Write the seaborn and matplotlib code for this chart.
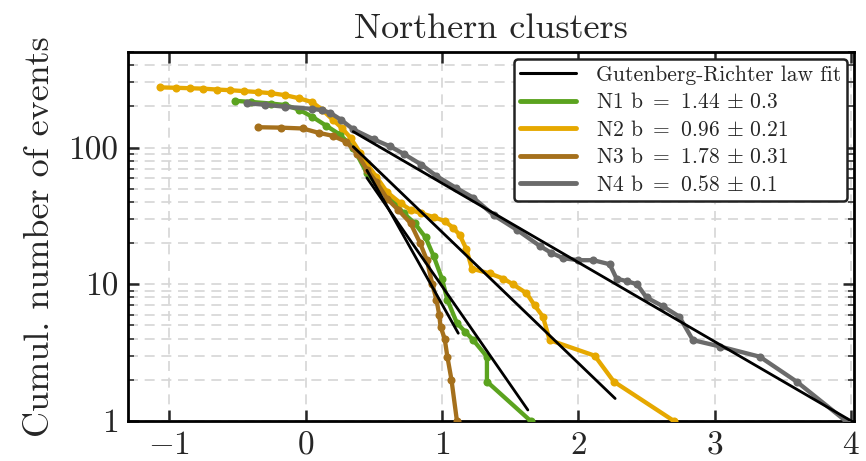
import numpy as np
import pandas as pd
import matplotlib.pyplot as plt
import seaborn as sns
from matplotlib.lines import Line2D
from matplotlib.ticker import LogLocator, NullFormatter

# data --------------------------------------------------------------
n1_mag = [-0.52, -0.4, -0.25, -0.15, -0.05, 0.05, 0.15, 0.25, 0.35, 0.45, 0.55, 0.65,
          0.72, 0.8, 0.88, 0.94, 1.0, 1.04, 1.11, 1.17, 1.23, 1.33, 1.33, 1.65]
n1_cum = [220, 216, 210, 205, 190, 168, 145, 125, 100, 65, 50, 40,
          33, 28, 22, 16, 11, 7.7, 5.2, 4.5, 3.9, 2.95, 1.94, 1]

n2_mag = [-1.07, -0.95, -0.85, -0.75, -0.65, -0.55, -0.45, -0.35, -0.25, -0.15, -0.05, 0.05,
          0.12, 0.2, 0.27, 0.33, 0.4, 0.45, 0.52, 0.6, 0.7, 0.77, 0.85, 0.94, 1.02, 1.08,
          1.13, 1.18, 1.22, 1.35, 1.45, 1.52, 1.62, 1.68, 1.74, 1.79, 2.12, 2.26, 2.7]
n2_cum = [276, 274, 272, 270, 266, 263, 259, 255, 250, 242, 230, 215,
          190, 160, 138, 118, 92, 76, 61, 47, 39, 35, 33, 31, 29, 26,
          23, 18, 13, 12, 11, 10, 8.6, 7, 5.8, 3.9, 3, 1.94, 1]

n3_mag = [-0.35, -0.18, -0.02, 0.1, 0.2, 0.3, 0.38, 0.45, 0.52, 0.6, 0.68, 0.77,
          0.84, 0.89, 0.93, 0.96, 0.98, 0.99, 1.02, 1.04, 1.07, 1.11]
n3_cum = [141, 140, 138, 128, 122, 110, 90, 69, 56, 42, 35, 28,
          20, 15, 10, 7.7, 6, 4.9, 4, 2.95, 2, 1]

n4_mag = [-0.43, -0.3, -0.15, 0.05, 0.12, 0.18, 0.26, 0.35, 0.5, 0.62, 0.72, 0.85, 0.96,
          1.1, 1.23, 1.38, 1.55, 1.72, 1.8, 1.89, 2.0, 2.11, 2.23, 2.28, 2.36, 2.43, 2.5,
          2.62, 2.74, 2.84, 3.04, 3.33, 3.6, 3.96]
n4_cum = [211, 206, 199, 192, 188, 180, 160, 136, 115, 102, 90, 75, 62,
          51, 43, 32, 25, 19, 17, 15.5, 15, 15, 14, 11, 10.5, 10, 8,
          6.9, 5.8, 3.9, 3.5, 2.95, 1.94, 1]

cluster_names = ["N1", "N2", "N3", "N4"]
b_values = ["1.44", "0.96", "1.78", "0.58"]
b_errors = ["0.3", "0.21", "0.31", "0.1"]
fit_intercepts = [2.427, 2.343, 2.635, 2.32]   # log10 a in log N = a - b M
fit_mag_min = [0.45, 0.35, 0.45, 0.35]
fit_mag_max = [1.63, 2.27, 1.12, 4.0]

colors = ["#5ba31f", "#e6a800", "#a5701c", "#6b6b6b"]

# style -------------------------------------------------------------
sns.set_style("ticks")
plt.rcParams["font.family"] = "serif"
plt.rcParams["font.serif"] = ["cmr10"]
plt.rcParams["mathtext.fontset"] = "cm"
plt.rcParams["axes.formatter.use_mathtext"] = True

fig = plt.figure(figsize=(8.66, 4.61), dpi=100)
ax = fig.add_axes([0.148, 0.087, 0.838, 0.800])

curves = [(n1_mag, n1_cum), (n2_mag, n2_cum), (n3_mag, n3_cum), (n4_mag, n4_cum)]
for name, (mag, cum), col in zip(cluster_names, curves, colors):
    df = pd.DataFrame({"mag": mag, "cum": cum})
    sns.lineplot(data=df, x="mag", y="cum", ax=ax, color=col, lw=3.1,
                 marker="o", markersize=5.8, markeredgewidth=0,
                 estimator=None, sort=False, zorder=3)

# Gutenberg-Richter fits
for a, b, m0, m1 in zip(fit_intercepts, b_values, fit_mag_min, fit_mag_max):
    fit = pd.DataFrame({"mag": [m0, m1]})
    fit["cum"] = 10 ** (a - float(b) * fit["mag"])
    sns.lineplot(data=fit, x="mag", y="cum", ax=ax, color="black", lw=2.0,
                 estimator=None, zorder=4)

ax.set_yscale("log")
ax.set_xlim(-1.3, 4.02)
ax.set_ylim(1, 500)
ax.set_xticks([-1, 0, 1, 2, 3, 4])
ax.set_yticks([1, 10, 100])
ax.set_yticklabels(["1", "10", "100"])
ax.yaxis.set_minor_locator(LogLocator(base=10, subs=np.arange(2, 10)))
ax.yaxis.set_minor_formatter(NullFormatter())

ax.grid(True, which="major", ls=(0, (6, 4)), color="#d6d6d6", lw=1.2, zorder=0)
ax.grid(True, which="minor", axis="y", ls=(0, (6, 4)), color="#d6d6d6", lw=1.2, zorder=0)
ax.set_axisbelow(True)

ax.tick_params(which="both", direction="in", top=True, right=True, labelsize=24, pad=7)
ax.tick_params(which="major", length=8, width=1.8)
ax.tick_params(which="minor", length=4.5, width=1.1)
ax.tick_params(axis="x", which="minor", bottom=False, top=False)
for spine in ax.spines.values():
    spine.set_linewidth(2.0)
    spine.set_color("black")

ax.set_xlabel("")
ax.set_ylabel("Cumul. number of events", fontsize=26, labelpad=9)
ax.set_title("Northern clusters", fontsize=26, pad=10)

handles = [Line2D([], [], color="black", lw=2.2)]
labels = ["Gutenberg-Richter law fit"]
for name, b, err, col in zip(cluster_names, b_values, b_errors, colors):
    handles.append(Line2D([], [], color=col, lw=3.5))
    labels.append(rf"{name} b $=$ {b} $\pm$ {err}")
leg = ax.legend(handles, labels, loc="upper right", fontsize=15.5, frameon=True,
                fancybox=True, framealpha=1, edgecolor="#222222",
                handlelength=2.6, handletextpad=0.9, labelspacing=0.35,
                borderaxespad=0.3, borderpad=0.3)
leg.get_frame().set_linewidth(1.8)
leg.set_zorder(10)

plt.savefig("out.png", dpi=100)
